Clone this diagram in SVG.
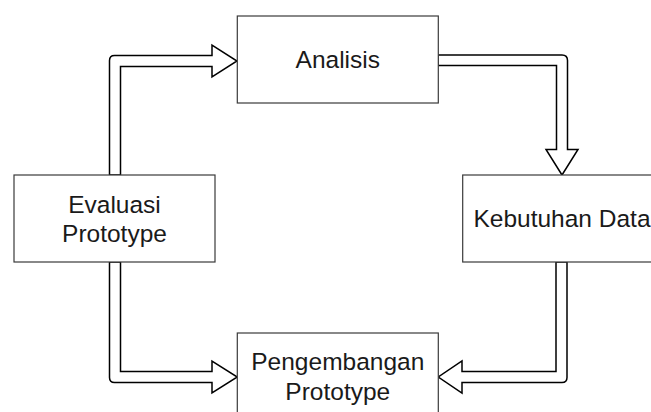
<svg xmlns="http://www.w3.org/2000/svg" width="651" height="412" viewBox="0 0 651 412">
<style>
.box{fill:#fff;stroke:#3a3a3a;stroke-width:1.2}
.arr{fill:#fff;stroke:#000;stroke-width:1.5;stroke-linejoin:miter}
.t{font-family:"Liberation Sans",Arial,sans-serif;font-size:24.5px;fill:#1a1a1a;text-anchor:middle}
</style>
<rect width="651" height="412" fill="#fff"/>
<g id="connectors">
<path class="arr" d="M109.5,175 V60.5 Q109.5,55.5 114.5,55.5 H212 V45 L237,61 L212,77 V66.5 H120.5 V175 Z"/>
<path class="arr" d="M438,55 H562 Q567.5,55 567.5,60.5 V149.5 H578 L562,175 L546,149.5 H556.5 V65.5 H438 Z"/>
<path class="arr" d="M109.5,262 V377.5 Q109.5,382.5 114.5,382.5 H212 V393 L237.3,377 L212,361 V371.5 H120.5 V262 Z"/>
<path class="arr" d="M567,262 V377.5 Q567,382.5 562,382.5 H462 V393 L438.3,377 L462,361 V371.5 H556 V262 Z"/>
</g>
<g id="analisis">
<rect class="box" x="237.3" y="16" width="201" height="87"/>
<text class="t" x="337.8" y="68.3">Analisis</text>
</g>
<g id="kebutuhan">
<rect class="box" x="462.7" y="175" width="201" height="87"/>
<text class="t" x="562" y="227">Kebutuhan Data</text>
</g>
<g id="evaluasi">
<rect class="box" x="14" y="175" width="201" height="87"/>
<text class="t" x="114.5" y="212.7">Evaluasi</text>
<text class="t" x="114.5" y="241.7">Prototype</text>
</g>
<g id="pengembangan">
<rect class="box" x="237.3" y="333" width="201" height="87"/>
<text class="t" x="337.8" y="370">Pengembangan</text>
<text class="t" x="337.8" y="399.5">Prototype</text>
</g>
</svg>
